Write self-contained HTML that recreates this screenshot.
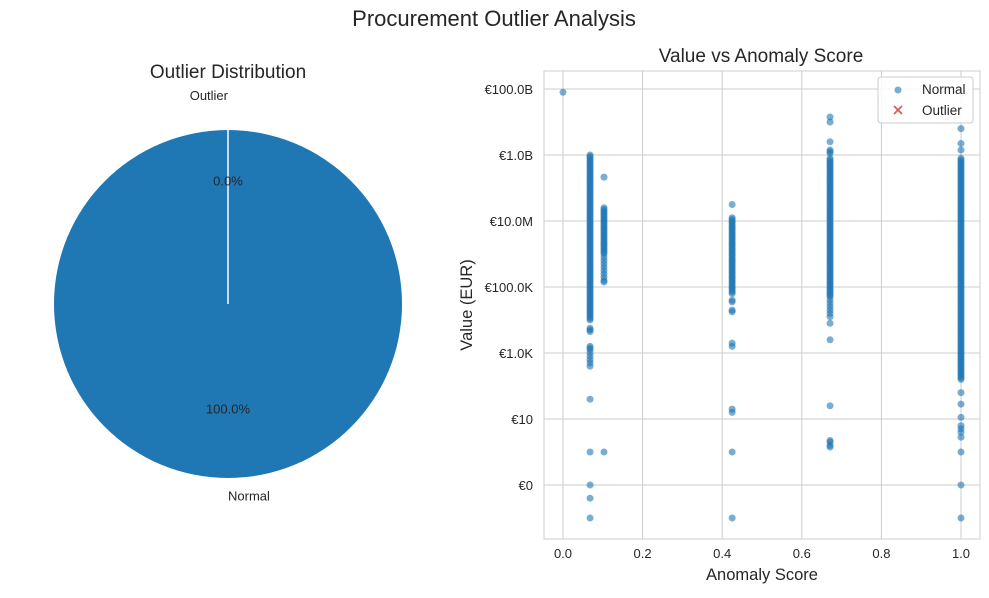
<!DOCTYPE html>
<html><head><meta charset="utf-8"><style>
body{margin:0;background:#fff;font-family:"Liberation Sans",Arial,sans-serif}
svg text{font-family:"Liberation Sans",Arial,sans-serif;fill:#262626}
</style></head><body>
<svg id="c" width="989" height="593" xmlns="http://www.w3.org/2000/svg">
<rect width="989" height="593" fill="#fff"/>
<text x="494" y="26" font-size="22" text-anchor="middle">Procurement Outlier Analysis</text>
<text x="228" y="78" font-size="19" text-anchor="middle">Outlier Distribution</text>
<g id="pie"></g>
<text x="761" y="62" font-size="19" text-anchor="middle">Value vs Anomaly Score</text>
<g id="sc"></g>
</svg>
<script>
const pieLabels=["Outlier","Normal"];
const pieCounts=[0,100];
const tickVals=[0,0.2,0.4,0.6,0.8,1.0];
const yTickExps=[11,9,7,5,3,1,-1];
const yTickLabels=["€100.0B","€1.0B","€10.0M","€100.0K","€1.0K","€10","€0"];
// anomaly score clusters and log10(EUR value) of each normal point
const clusterScores=[0.0,0.068,0.103,0.425,0.671,1.0];
const clusterLogValues=[
 [10.9],
 [9.0,8.95,8.9,8.85,8.8,8.75,8.7,8.65,8.6,8.55,8.5,8.45,8.4,8.35,8.3,8.25,8.2,8.15,8.1,8.05,8.0,7.95,7.9,7.85,7.8,7.75,7.7,7.65,7.6,7.55,7.5,7.45,7.4,7.35,7.3,7.25,7.2,7.15,7.1,7.05,7.0,6.95,6.9,6.85,6.8,6.75,6.7,6.65,6.6,6.55,6.5,6.45,6.4,6.35,6.3,6.25,6.2,6.15,6.1,6.05,6.0,5.95,5.9,5.85,5.8,5.75,5.7,5.65,5.6,5.55,5.5,5.45,5.4,5.35,5.3,5.25,5.2,5.15,5.1,5.05,5.0,4.95,4.9,4.85,4.8,4.75,4.7,4.65,4.6,4.55,4.5,4.45,4.4,4.35,4.3,4.25,4.2,4.15,4.1,4.05,4.0,3.75,3.7,3.65,3.2,3.15,3.1,3.0,2.9,2.8,2.7,2.6,1.6,0,-1.0,-1.4,-2],
 [8.33,7.4,7.35,7.3,7.25,7.2,7.15,7.1,7.05,7.0,6.95,6.9,6.85,6.8,6.75,6.7,6.65,6.6,6.55,6.5,6.45,6.4,6.35,6.3,6.25,6.2,6.15,6.1,6.05,6.0,5.9,5.8,5.7,5.6,5.5,5.4,5.3,5.2,5.15,0],
 [7.5,7.1,7.05,7.0,6.95,6.9,6.85,6.8,6.75,6.7,6.65,6.6,6.55,6.5,6.45,6.4,6.35,6.3,6.25,6.2,6.15,6.1,6.05,6.0,5.95,5.9,5.85,5.8,5.75,5.7,5.65,5.6,5.55,5.5,5.45,5.4,5.35,5.3,5.25,5.2,5.15,5.1,5.05,5.0,4.95,4.9,4.85,4.8,4.6,4.55,4.3,4.25,3.3,3.2,1.3,1.2,0,-2],
 [10.15,10.0,9.4,9.15,9.1,9.05,8.9,8.85,8.8,8.75,8.7,8.65,8.6,8.55,8.5,8.45,8.4,8.35,8.3,8.25,8.2,8.15,8.1,8.05,8.0,7.95,7.9,7.85,7.8,7.75,7.7,7.65,7.6,7.55,7.5,7.45,7.4,7.35,7.3,7.25,7.2,7.15,7.1,7.05,7.0,6.95,6.9,6.85,6.8,6.75,6.7,6.65,6.6,6.55,6.5,6.45,6.4,6.35,6.3,6.25,6.2,6.15,6.1,6.05,6.0,5.95,5.9,5.85,5.8,5.75,5.7,5.65,5.6,5.55,5.5,5.45,5.4,5.35,5.3,5.25,5.2,5.15,5.1,5.05,5.0,4.95,4.9,4.85,4.8,4.75,4.7,4.6,4.5,4.4,4.3,4.2,4.1,3.9,3.4,1.4,0.35,0.3,0.2,0.15],
 [9.8,9.35,9.15,8.9,8.85,8.8,8.75,8.7,8.65,8.6,8.55,8.5,8.45,8.4,8.35,8.3,8.25,8.2,8.15,8.1,8.05,8.0,7.95,7.9,7.85,7.8,7.75,7.7,7.65,7.6,7.55,7.5,7.45,7.4,7.35,7.3,7.25,7.2,7.15,7.1,7.05,7.0,6.95,6.9,6.85,6.8,6.75,6.7,6.65,6.6,6.55,6.5,6.45,6.4,6.35,6.3,6.25,6.2,6.15,6.1,6.05,6.0,5.95,5.9,5.85,5.8,5.75,5.7,5.65,5.6,5.55,5.5,5.45,5.4,5.35,5.3,5.25,5.2,5.15,5.1,5.05,5.0,4.95,4.9,4.85,4.8,4.75,4.7,4.65,4.6,4.55,4.5,4.45,4.4,4.35,4.3,4.25,4.2,4.15,4.1,4.05,4.0,3.95,3.9,3.85,3.8,3.75,3.7,3.65,3.6,3.55,3.5,3.45,3.4,3.35,3.3,3.25,3.2,3.15,3.1,3.05,3.0,2.95,2.9,2.85,2.8,2.75,2.7,2.65,2.6,2.55,2.5,2.45,2.4,2.35,2.3,2.25,2.2,1.8,1.45,1.05,0.8,0.7,0.6,0.45,0,-1,-2]
];
const NS="http://www.w3.org/2000/svg";
function mk(tag,attrs,parent){const e=document.createElementNS(NS,tag);for(const k in attrs)e.setAttribute(k,attrs[k]);parent.appendChild(e);return e;}
// Pie
const pie=document.getElementById('pie');
const cx=228,cy=304,r=174;
const total=pieCounts.reduce((a,b)=>a+b,0);
let ang=90;
const labelsToDraw=[];
pieCounts.forEach((c,i)=>{
 const sweep=c/total*360;
 const a0=ang*Math.PI/180,a1=(ang+sweep)*Math.PI/180;
 let el;
 if(sweep>=359.999){el=mk('circle',{cx:cx,cy:cy,r:r,fill:'#1f77b4'},pie);}
 else if(sweep>0){const x0=cx+r*Math.cos(a0),y0=cy-r*Math.sin(a0),x1=cx+r*Math.cos(a1),y1=cy-r*Math.sin(a1);
  el=mk('path',{d:`M${cx},${cy}L${x0},${y0}A${r},${r} 0 ${sweep>180?1:0} 0 ${x1},${y1}Z`,fill:i?'#1f77b4':'#ff7f0e'},pie);}
 if(el){
 }
 labelsToDraw.push([i,c,(ang+sweep/2)*Math.PI/180]);
 ang+=sweep;
});
const sep=mk('line',{x1:cx,y1:cy,x2:cx,y2:cy-r,stroke:'#fff','stroke-width':1.5},pie);


labelsToDraw.forEach(([i,c,mid])=>{
 const up=Math.sin(mid)>0;
 const lt=mk('text',{x:cx,y:cy-(up?1.2:1.1)*r*Math.sin(mid)+5,'font-size':13,'text-anchor':up?'end':'start'},pie);
 lt.textContent=pieLabels[i];
 
 
 const pt=mk('text',{x:cx,y:cy-(up?0.71:0.6)*r*Math.sin(mid)+5,'font-size':13,'text-anchor':'middle'},pie);
 pt.textContent=(c/total*100).toFixed(1)+'%';
 
 
});
// Scatter
const sc=document.getElementById('sc');
const L=544,R=980,T=71,B=539;
const xS=v=>563+v*398;
const yS=e=>89+(11-e)*33;
mk('rect',{x:L,y:T,width:R-L,height:B-T,fill:'#fff',stroke:'#ccc','stroke-width':1},sc);
tickVals.forEach(v=>{
 mk('line',{x1:xS(v),x2:xS(v),y1:T,y2:B,stroke:'#ccc','stroke-width':1},sc);
 const t=mk('text',{x:xS(v),y:B+19,'font-size':13,'text-anchor':'middle'},sc);t.textContent=v.toFixed(1);
 
 
});
yTickExps.forEach((e,i)=>{
 mk('line',{x1:L,x2:R,y1:yS(e),y2:yS(e),stroke:'#ccc','stroke-width':1},sc);
 const t=mk('text',{x:533,y:yS(e)+5,'font-size':13,'text-anchor':'end'},sc);t.textContent=yTickLabels[i];
 
 
});
clusterScores.forEach((s,i)=>{
 clusterLogValues[i].forEach(lv=>{
  const p=mk('circle',{cx:xS(s),cy:yS(lv),r:3.5,fill:'#1f77b4','fill-opacity':0.6},sc);
  
  
 });
});
const xl=mk('text',{x:762,y:580,'font-size':16.5,'text-anchor':'middle'},sc);xl.textContent='Anomaly Score';


const yl=mk('text',{x:472,y:305,'font-size':16.5,'text-anchor':'middle',transform:'rotate(-90 472 305)'},sc);yl.textContent='Value (EUR)';


// legend
const lg=mk('g',{},sc);


mk('rect',{x:878,y:77,width:95,height:46,rx:3,fill:'#fff','fill-opacity':0.85,stroke:'#ccc'},lg);
const ln=mk('circle',{cx:898,cy:90,r:3.5,fill:'#1f77b4','fill-opacity':0.6},lg);


mk('path',{d:'M894,106L902,114M902,106L894,114',stroke:'#d62728','stroke-width':1.6,'stroke-opacity':0.8},lg);
const t1=mk('text',{x:922,y:94,'font-size':13.5},lg);t1.textContent='Normal';
const t2=mk('text',{x:922,y:115,'font-size':13.5},lg);t2.textContent='Outlier';


</script>
</body></html>
